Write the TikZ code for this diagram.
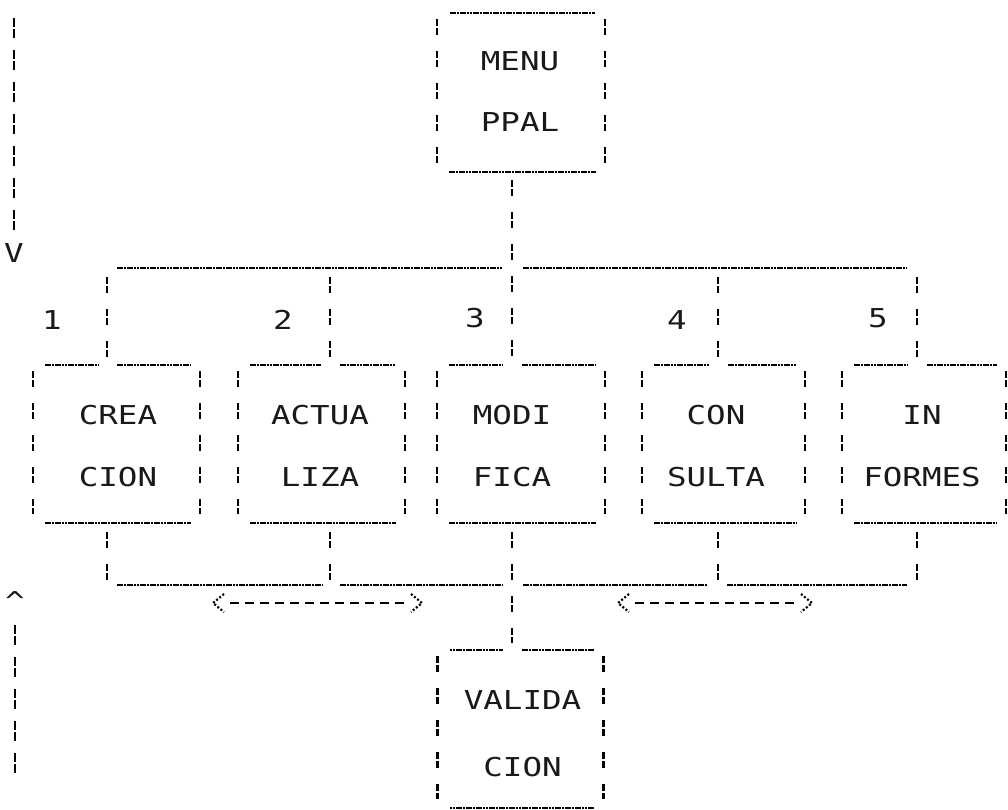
\documentclass[tikz,border=0pt]{standalone}
\usepackage{fontspec}
\setmonofont{DejaVu Sans Mono}[FakeStretch=1.25]
\usetikzlibrary{calc}
\begin{document}
\begin{tikzpicture}[x=1pt,y=-1pt,
  frame/.style={minimum width=#1, minimum height=158pt, inner sep=0pt, outer sep=0pt},
  hline/.style={line width=2pt, dash pattern=on 2.6pt off 0.7pt, black},
  vbar/.style={line width=2.2pt, dash pattern=on 7pt off 2pt on 7pt off 16pt, black},
  lbar/.style={line width=2.2pt, dash pattern=on 9pt off 2pt on 9pt off 12pt, black},
  arrline/.style={line width=1.8pt, dash pattern=on 9pt off 6pt, black},
  chev/.style={line width=2.2pt, dash pattern=on 2pt off 2pt, black},
  txt/.style={font=\ttfamily\fontsize{26}{#1}\selectfont, align=center, inner sep=0pt, text=black!90},
  num/.style={font=\ttfamily\fontsize{26}{30}\selectfont, inner sep=0pt, text=black!90}]
\useasboundingbox (0,0) rectangle (1008,810);

% column coordinates and bus rows
\coordinate (k1) at (107,0);
\coordinate (k2) at (330,0);
\coordinate (k3) at (512,0);
\coordinate (k4) at (718,0);
\coordinate (k5) at (917,0);
\coordinate (tb) at (0,268);
\coordinate (bb) at (0,585);

% boxes (frames)
\node[frame=168pt, minimum height=159pt] (menu) at (521,92.5) {};
\node[frame=167pt] (b1) at (116.5,444) {};
\node[frame=167pt] (b2) at (321.5,444) {};
\node[frame=168pt] (b3) at (521,444) {};
\node[frame=163pt] (b4) at (723.5,444) {};
\node[frame=164pt] (b5) at (924,444) {};
\node[frame=166pt] (val) at (520.5,729) {};

% texts
\node[txt=61pt] (tm) at (520,91.5) {MENU\\PPAL};
\node[txt=62pt] (t1) at (118,446) {CREA\\CION};
\node[txt=62pt] (t2) at (320,446) {ACTUA\\LIZA};
\node[txt=62pt] (t3) at (512,446) {MODI\\FICA};
\node[txt=62pt] (t4) at (716,446) {CON\\SULTA};
\node[txt=62pt] (t5) at (922,446) {IN\\FORMES};
\node[txt=67pt] (tv) at (522.5,733.5) {VALIDA\\CION};

\node[num] (n1) at (52,320) {1};
\node[num] (n2) at (283,320) {2};
\node[num] (n3) at (475,318) {3};
\node[num] (n4) at (677,320) {4};
\node[num] (n5) at (878,318) {5};

% box sides and bottoms
\foreach \b in {menu,b1,b2,b3,b4,b5,val} {
  \draw[vbar] ($(\b.north west)+(0,6)$) -- ($(\b.south west)+(0,-9)$);
  \draw[vbar] ($(\b.north east)+(0,6)$) -- ($(\b.south east)+(0,-9)$);
  \draw[hline] ($(\b.south west)+(12,0)$) -- ($(\b.south east)+(-9,0)$);
}
% menu top (continuous)
\draw[hline] ($(menu.north west)+(13,0)$) -- ($(menu.north east)+(-10,0)$);
% tops with gap at connector column
\foreach \b/\k in {b1/k1,b2/k2,b3/k3,b4/k4,b5/k5,val/k3} {
  \draw[hline] ($(\b.north west)+(12,0)$) -- ($(\b.north -| \k)+(-9,0)$);
  \draw[hline] ($(\b.north -| \k)+(10,0)$) -- ($(\b.north east)+(-9,0)$);
}

% top bus
\draw[hline] ($(k1 |- tb)+(10,0)$) -- ($(k3 |- tb)+(-9,0)$);
\draw[hline] ($(k3 |- tb)+(11,0)$) -- ($(k5 |- tb)+(-10,0)$);
% menu to MODIFICA
\draw[vbar] ($(menu.south -| k3)+(0,8)$) -- ($(b3.north -| k3)+(0,-6)$);
% drops from bus to boxes
\foreach \b/\k in {b1/k1,b2/k2,b4/k4,b5/k5} {
  \draw[vbar] ($(\k |- tb)+(0,9)$) -- ($(\b.north -| \k)+(0,-6)$);
}
% rises from boxes to lower bus
\foreach \b/\k in {b1/k1,b2/k2,b4/k4,b5/k5} {
  \draw[vbar] ($(\b.south -| \k)+(0,9)$) -- ($(\k |- bb)+(0,-3)$);
}
\draw[vbar] ($(b3.south -| k3)+(0,9)$) -- ($(val.north -| k3)+(0,-7)$);
% lower bus
\draw[hline] ($(k1 |- bb)+(10,0)$) -- ($(k2 |- bb)+(-8,0)$);
\draw[hline] ($(k2 |- bb)+(10,0)$) -- ($(k3 |- bb)+(-9,0)$);
\draw[hline] ($(k3 |- bb)+(11,0)$) -- ($(k4 |- bb)+(-11,0)$);
\draw[hline] ($(k4 |- bb)+(9,0)$) -- ($(k5 |- bb)+(-10,0)$);

% double arrows
\coordinate (a1) at (213,603);
\coordinate (a2) at (422,603);
\coordinate (a3) at (618,603);
\coordinate (a4) at (812,603);
\foreach \p/\q in {a1/a2,a3/a4} {
  \draw[arrline] ($(\p)+(17,0)$) -- ($(\q)+(-17,0)$);
  \draw[chev] ($(\p)+(11,-9)$) -- (\p) -- ($(\p)+(11,9)$);
  \draw[chev] ($(\q)+(-11,-9)$) -- (\q) -- ($(\q)+(-11,9)$);
}

% left margin arrows
\coordinate (l1) at (14,18);
\coordinate (l2) at (14,232);
\node[num] (vdown) at (14,253) {V};
\draw[lbar] (l1) -- (l2);
\node[num] (vup) at (15,601) {\textasciicircum};
\coordinate (l3) at (15,625);
\coordinate (l4) at (15,776);
\draw[lbar] (l3) -- (l4);
\end{tikzpicture}
\end{document}
